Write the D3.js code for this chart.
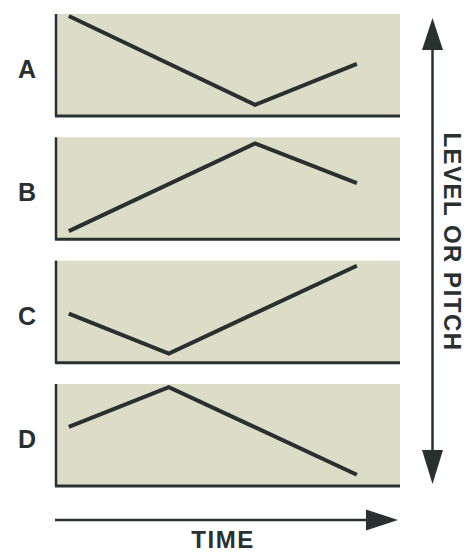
<!DOCTYPE html>
<html>
<head>
<meta charset="utf-8">
<script src="https://cdn.jsdelivr.net/npm/d3@7"></script>
<style>
  html, body { margin: 0; padding: 0; background: #ffffff; }
  svg { display: block; }
</style>
</head>
<body>
<svg id="chart" width="470" height="552"></svg>
<script>
// ---- data ----
const categories = ["A", "B", "C", "D"];
const timeA = [4, 58, 87.5];
const levelA = [98, 11, 51];
const timeB = [4, 58, 87.5];
const levelB = [8, 94, 55];
const timeC = [4, 33, 87.5];
const levelC = [48, 9, 95];
const timeD = [4, 33, 87.5];
const levelD = [58, 97, 11];
const xAxisLabel = "TIME";
const yAxisLabel = "LEVEL OR PITCH";

const series = [
  { key: "A", t: timeA, v: levelA },
  { key: "B", t: timeB, v: levelB },
  { key: "C", t: timeC, v: levelC },
  { key: "D", t: timeD, v: levelD }
];

// ---- layout ----
const ink = "#283030";
const panelFill = "#dddcc7";
const left = 55, right = 400;
const svg = d3.select("#chart");

const x = d3.scaleLinear().domain([0, 100]).range([left, right]);
const band = d3.scaleBand().domain(categories).range([14, 486]).paddingInner(0.173).paddingOuter(0);
const h = band.bandwidth();

series.forEach(s => {
  const top = band(s.key);
  const y = d3.scaleLinear().domain([0, 100]).range([top + h, top]);
  const g = svg.append("g");
  g.append("rect")
    .attr("x", left).attr("y", top)
    .attr("width", right - left).attr("height", h)
    .attr("fill", panelFill);
  // axes lines
  g.append("line")
    .attr("x1", left + 1).attr("x2", left + 1)
    .attr("y1", top).attr("y2", top + h)
    .attr("stroke", ink).attr("stroke-width", 2.5);
  g.append("line")
    .attr("x1", left).attr("x2", right)
    .attr("y1", top + h).attr("y2", top + h)
    .attr("stroke", ink).attr("stroke-width", 3);
  // data line
  const pts = s.t.map((t, i) => [t, s.v[i]]);
  g.append("path")
    .datum(pts)
    .attr("d", d3.line().x(d => x(d[0])).y(d => y(d[1])))
    .attr("fill", "none")
    .attr("stroke", ink)
    .attr("stroke-width", 4)
    .attr("stroke-linejoin", "miter")
    .attr("stroke-linecap", "butt");
  // label
  g.append("text")
    .attr("x", 27).attr("y", top + h / 2 + 13)
    .attr("text-anchor", "middle")
    .attr("font-family", "Liberation Sans, Arial, sans-serif")
    .attr("font-weight", "bold")
    .attr("font-size", 25)
    .attr("fill", ink)
    .text(s.key);
});

// ---- time arrow ----
const ty = 520;
svg.append("line")
  .attr("x1", left).attr("x2", 370)
  .attr("y1", ty).attr("y2", ty)
  .attr("stroke", ink).attr("stroke-width", 2.5);
svg.append("path")
  .attr("d", d3.line()([[366, ty - 10.5], [398, ty], [366, ty + 10.5]]) + "Z")
  .attr("fill", ink);
svg.append("text")
  .attr("x", 223).attr("y", 548)
  .attr("text-anchor", "middle")
  .attr("font-family", "Liberation Sans, Arial, sans-serif")
  .attr("font-weight", "bold")
  .attr("font-size", 24)
  .attr("letter-spacing", 1.5)
  .attr("fill", ink)
  .text(xAxisLabel);

// ---- level arrow ----
const vx = 432.5;
svg.append("line")
  .attr("x1", vx).attr("x2", vx)
  .attr("y1", 46).attr("y2", 455)
  .attr("stroke", ink).attr("stroke-width", 2.5);
svg.append("path")
  .attr("d", d3.line()([[vx - 10.5, 50], [vx, 18], [vx + 10.5, 50]]) + "Z")
  .attr("fill", ink);
svg.append("path")
  .attr("d", d3.line()([[vx - 10.5, 450], [vx, 484], [vx + 10.5, 450]]) + "Z")
  .attr("fill", ink);
svg.append("text")
  .attr("transform", "translate(444," + 242 + ") rotate(90)")
  .attr("text-anchor", "middle")
  .attr("font-family", "Liberation Sans, Arial, sans-serif")
  .attr("font-weight", "bold")
  .attr("font-size", 24)
  .attr("letter-spacing", 1.5)
  .attr("fill", ink)
  .text(yAxisLabel);
</script>
</body>
</html>
